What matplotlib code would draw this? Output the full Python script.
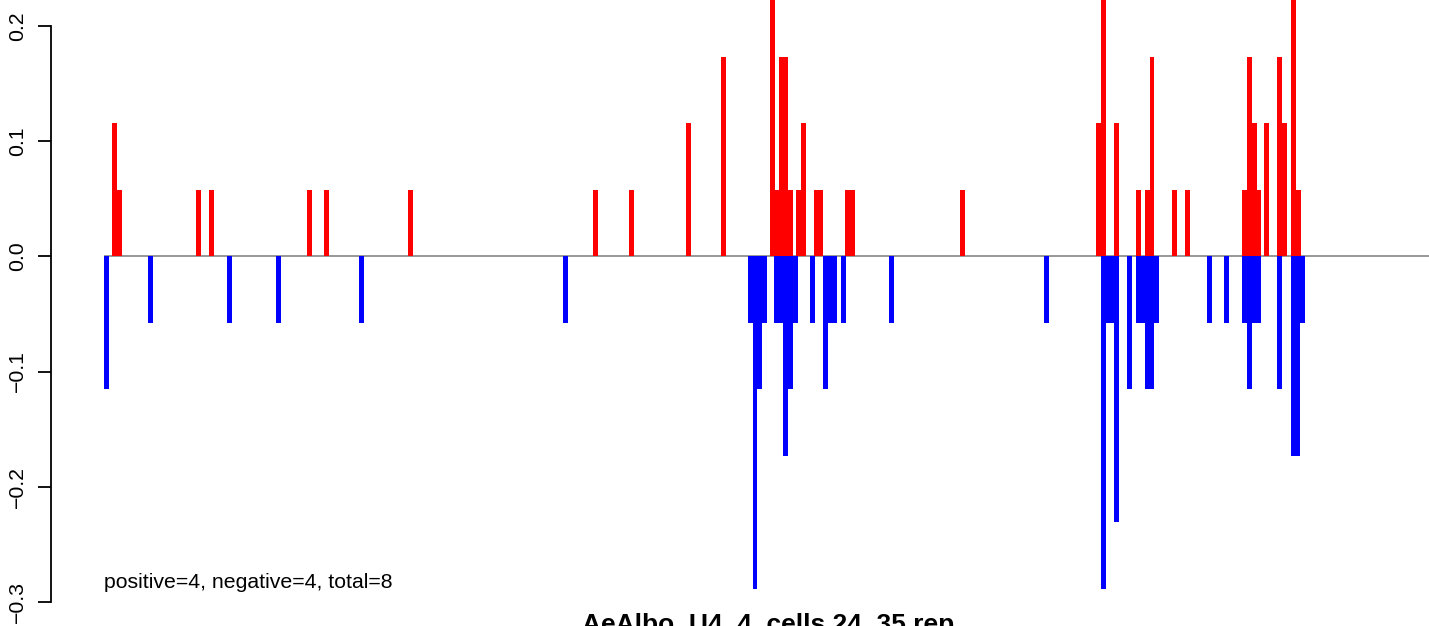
import matplotlib

matplotlib.use("Agg")
import matplotlib.pyplot as plt
import numpy as np

plt.rcParams["font.family"] = ["Liberation Sans", "DejaVu Sans"]

# Positions of the bins along the sequence (bar left edge, in bin units)
red_pos = [1.7, 2.8, 20.0, 22.8, 44.1, 47.8, 66.1, 106.3, 114.1, 126.5,
           134.1, 144.8, 145.9, 146.7, 147.7, 148.7, 150.4, 151.5, 154.3, 155.3,
           161.1, 162.1, 186.1, 215.7, 216.7, 219.6, 224.3, 226.3, 227.3, 232.2,
           235.0, 247.4, 248.5, 249.6, 250.4, 252.2, 255.0, 256.1, 258.0, 259.1]
red_count = [2, 1, 1, 1, 1, 1, 1, 1, 1, 2,
             3, 4, 1, 3, 3, 1, 1, 2, 1, 1,
             1, 1, 1, 2, 4, 2, 1, 1, 3, 1,
             1, 1, 3, 2, 1, 2, 3, 2, 4, 1]

blue_pos = [0.0, 9.6, 26.7, 37.4, 55.4, 99.8, 140.0, 141.0, 142.0, 143.0,
            145.7, 146.6, 147.6, 148.7, 149.8, 153.5, 156.3, 157.4, 158.4, 160.2,
            170.7, 204.3, 216.7, 217.7, 218.7, 219.6, 222.4, 224.3, 225.3, 226.3,
            227.3, 228.3, 239.8, 243.5, 247.4, 248.5, 249.4, 250.4, 255.0, 258.0,
            259.0, 260.0]
blue_count = [2, 1, 1, 1, 1, 1, 1, 5, 2, 1,
              1, 1, 3, 2, 1, 1, 2, 1, 1, 1,
              1, 1, 5, 1, 1, 4, 2, 1, 1, 2,
              2, 1, 1, 1, 1, 2, 1, 1, 2, 3,
              3, 1]

# one read = 1/sqrt(300)
unit = 0.0577
red_val = np.array(red_count) * unit
blue_val = -np.array(blue_count) * unit

yticks = [-0.3, -0.2, -0.1, 0.0, 0.1, 0.2]
ytick_labels = ["\u22120.3", "\u22120.2", "\u22120.1", "0.0", "0.1", "0.2"]
note = "positive=4, negative=4, total=8"
title = "AeAlbo_U4_4_cells 24_35 rep"

fig = plt.figure(figsize=(14.29, 6.26), dpi=100)
ax = fig.add_axes([0, 0, 1, 1])
ax.patch.set_alpha(0)

# zero line from the first bin to the right edge
x_start = min(min(red_pos), min(blue_pos))
ax.hlines(0, x_start, 400, color="#7a7a7a", linewidth=1.1, zorder=1)

ax.bar(red_pos, red_val, width=1.05, align="edge", color="#ff0000",
       linewidth=0, zorder=2)
ax.bar(blue_pos, blue_val, width=1.05, align="edge", color="#0000ff",
       linewidth=0, zorder=2)

ax.set_xlim(-22.61, 288.04)
ax.set_ylim(-0.3208, 0.2224)

# R-like axis: only the left one, spanning the tick range
for side in ["top", "right", "bottom"]:
    ax.spines[side].set_visible(False)
ax.spines["left"].set_position(("axes", 51 / 1429))
ax.spines["left"].set_bounds(-0.3, 0.2)
ax.spines["left"].set_linewidth(1.3)
ax.set_xticks([])
ax.set_yticks(yticks)
ax.set_yticklabels(ytick_labels, rotation=90, va="center", fontsize=15.3)
ax.tick_params(axis="y", length=9.1, width=1.3, pad=8.3)

ax.text(0, -0.2881, note, fontsize=15.3, ha="left", va="baseline")

fig.text(582 / 1429, -6 / 626, title, fontsize=19, fontweight="bold",
         ha="left", va="baseline")

fig.savefig("out.png", dpi=100)
